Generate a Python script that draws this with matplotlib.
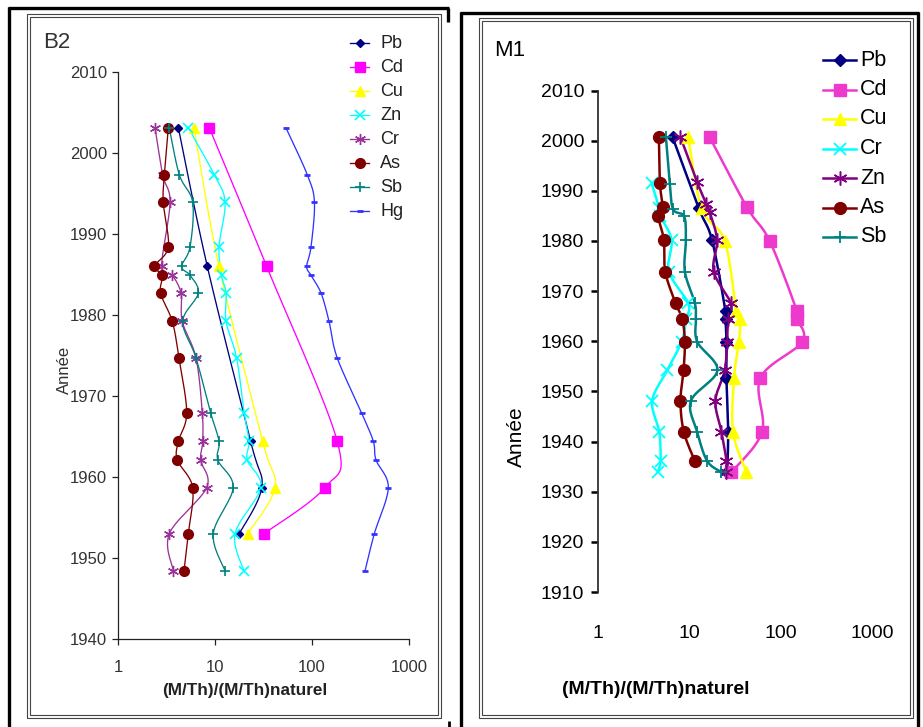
import numpy as np
import matplotlib
matplotlib.use("Agg")
import matplotlib.pyplot as plt
from matplotlib.lines import Line2D
from matplotlib.patches import Rectangle

plt.rcParams['font.family'] = ['Liberation Sans', 'DejaVu Sans']

# ---------------- Core B2 ----------------
b2_years_all = [2003.1, 1997.3, 1993.9, 1988.4, 1986.0, 1984.9, 1982.7, 1979.2,
                1974.7, 1967.9, 1964.4, 1962.1, 1958.7, 1953.0, 1948.4]

b2_pb_years = [2003.1, 1986.0, 1964.4, 1958.7, 1953.0]
b2_pb = [4.19, 8.33, 23.3, 30.3, 17.8]

b2_cd_years = [2003.1, 1986.0, 1964.4, 1958.7, 1953.0]
b2_cd = [8.74, 34.1, 182, 136, 32.0]

b2_cu_years = [2003.1, 1986.0, 1964.4, 1958.7, 1953.0]
b2_cu = [6.07, 11.0, 31.0, 41.5, 21.7]

b2_zn_years = [2003.1, 1997.3, 1993.9, 1988.4, 1984.9, 1982.7, 1979.2, 1974.7,
               1967.9, 1964.4, 1962.1, 1958.7, 1953.0, 1948.4]
b2_zn = [5.31, 9.84, 12.7, 11.0, 11.7, 13.0, 13.0, 16.7, 20.0, 22.4, 21.5, 29.6, 16.1, 19.9]

b2_cr_years = [2003.1, 1997.3, 1993.9, 1986.0, 1984.9, 1982.7, 1979.2, 1974.7,
               1967.9, 1964.4, 1962.1, 1958.7, 1953.0, 1948.4]
b2_cr = [2.41, 2.89, 3.44, 2.82, 3.63, 4.46, 4.60, 6.37, 7.40, 7.46, 7.12, 8.21, 3.38, 3.72]

b2_as_years = b2_years_all
b2_as = [3.30, 3.00, 2.93, 3.30, 2.37, 2.86, 2.75, 3.63, 4.25, 5.11, 4.19, 4.09, 5.89, 5.31, 4.79]

b2_sb_years = b2_years_all
b2_sb = [3.38, 4.29, 5.89, 5.53, 4.54, 5.53, 6.73, 4.65, 6.37, 9.03, 11.0, 10.7, 15.4, 9.60, 12.7]

b2_hg_years = b2_years_all
b2_hg = [53.9, 89.5, 106, 97.7, 88.2, 97.7, 124, 150, 182, 325, 429, 457, 612, 439, 352]

# ---------------- Core M1 ----------------
m1_pb_years = [2000.7, 1986.5, 1980.2, 1966.0, 1964.5, 1959.9, 1952.7, 1941.9, 1933.9]
m1_pb = [6.55, 12.7, 17.7, 24.9, 24.9, 25.5, 25.5, 26.6, 26.0]

m1_cd_years = [2000.7, 1986.7, 1980.0, 1966.0, 1964.5, 1959.9, 1952.7, 1941.9, 1933.9]
m1_cd = [16.7, 42.8, 75.8, 150.8, 150.8, 172.6, 60.0, 62.5, 28.9]

m1_cu_years = [2000.7, 1986.5, 1980.0, 1966.0, 1964.5, 1959.9, 1952.7, 1941.9, 1933.9]
m1_cu = [9.7, 13.6, 24.4, 32.8, 36.3, 34.8, 30.9, 30.1, 42.2]

m1_cr_years = [1991.5, 1986.5, 1985.0, 1980.2, 1973.9, 1967.6, 1964.5, 1959.9,
               1954.2, 1948.1, 1941.9, 1936.1, 1933.9]
m1_cr = [3.86, 4.7, 4.8, 6.39, 5.97, 9.7, 9.3, 8.21, 5.72, 3.92, 4.68, 4.84, 4.49]

m1_zn_years = [2000.7, 1991.7, 1987.3, 1985.7, 1980.2, 1973.9, 1967.6, 1964.5,
               1959.9, 1954.2, 1948.1, 1941.9, 1936.1, 1933.9]
m1_zn = [8.0, 12.2, 15.4, 16.7, 20.1, 18.5, 28.4, 26.6, 25.9, 24.4, 19.3, 22.5, 25.5, 24.9]

m1_as_years = [2000.7, 1991.5, 1986.7, 1985.0, 1980.2, 1973.9, 1967.6, 1964.5,
               1959.9, 1954.2, 1948.1, 1941.9, 1936.1]
m1_as = [4.64, 4.76, 5.1, 4.56, 5.26, 5.44, 7.06, 8.35, 8.93, 8.64, 8.0, 8.71, 11.5]

m1_sb_years = [2000.7, 1991.3, 1986.3, 1984.9, 1980.2, 1973.9, 1967.6, 1964.5,
               1959.9, 1954.2, 1948.1, 1941.9, 1936.1, 1933.9]
m1_sb = [5.54, 6.12, 6.65, 8.78, 9.16, 8.93, 11.5, 11.8, 12.2, 20.3, 10.4, 12.2, 15.7, 22.5]

x_ticks = [1, 10, 100, 1000]
x_ticklabels = ["1", "10", "100", "1000"]
b2_yticks = list(range(1940, 2011, 10))
m1_yticks = list(range(1910, 2011, 10))
x_label = "(M/Th)/(M/Th)naturel"
y_label = "Année"

# ---------------- figure helpers ----------------
W, H = 923, 727
fig = plt.figure(figsize=(W / 100, H / 100), dpi=100)


def fx(px):
    return px / W


def fy(py):
    return 1 - py / H


def smooth(vals, years, n=16):
    """Catmull-Rom curve through the points (log10 of value, year)."""
    u = np.log10(np.asarray(vals, float))
    y = np.asarray(years, float)
    if len(u) < 3:
        return 10 ** u, y
    P = np.column_stack([u, y])
    P = np.vstack([P[0], P, P[-1]])
    out = []
    t = np.linspace(0, 1, n, endpoint=False)
    for i in range(1, len(P) - 2):
        p0, p1, p2, p3 = P[i - 1], P[i], P[i + 1], P[i + 2]
        tt = t[:, None]
        seg = 0.5 * ((2 * p1) + (-p0 + p2) * tt + (2 * p0 - 5 * p1 + 4 * p2 - p3) * tt ** 2
                     + (-p0 + 3 * p1 - 3 * p2 + p3) * tt ** 3)
        out.append(seg)
    out.append(P[-2][None, :])
    S = np.vstack(out)
    return 10 ** S[:, 0], S[:, 1]


def series(ax, vals, years, color, marker, ms, lw, mew=1.0, mfc=None, zorder=3):
    xs, ys = smooth(vals, years)
    ax.plot(xs, ys, color=color, lw=lw, zorder=zorder, solid_capstyle='round')
    ax.plot(vals, years, ls='none', marker=marker, ms=ms, mew=mew,
            mec=color, mfc=color if mfc is None else mfc, zorder=zorder + 0.5)


def legend_row(x0, x1, xt, y, color, marker, ms, lw, label, size, mew=1.0, tcolor='black'):
    fig.add_artist(Line2D([fx(x0), fx(x1)], [fy(y), fy(y)], color=color, lw=lw,
                          transform=fig.transFigure))
    fig.add_artist(Line2D([fx((x0 + x1) / 2)], [fy(y)], ls='none', marker=marker, ms=ms,
                          mew=mew, mec=color, mfc=color, transform=fig.transFigure))
    fig.text(fx(xt), fy(y), label, fontsize=size, va='center', ha='left', color=tcolor)


STAR = (6, 2, 0)

# ---------------- frames ----------------
frame_kw = dict(transform=fig.transFigure, color='black', solid_capstyle='butt')
fig.add_artist(Line2D([fx(9), fx(9)], [fy(7), fy(727)], lw=2.4, **frame_kw))
fig.add_artist(Line2D([fx(8), fx(449)], [fy(8), fy(8)], lw=2.4, **frame_kw))
fig.add_artist(Line2D([fx(448), fx(448)], [fy(8), fy(22)], lw=2.4, **frame_kw))
fig.add_artist(Line2D([fx(449), fx(449)], [fy(721), fy(727)], lw=2.0, **frame_kw))
fig.add_artist(Line2D([fx(461), fx(461)], [fy(12), fy(727)], lw=2.4, **frame_kw))
fig.add_artist(Line2D([fx(460), fx(919)], [fy(13), fy(13)], lw=2.4, **frame_kw))
fig.add_artist(Line2D([fx(918), fx(918)], [fy(12), fy(727)], lw=2.4, **frame_kw))

for (x0, y0, x1, y1) in [(27, 14, 441, 718), (30, 17, 438, 715),
                         (479, 18, 913, 718), (482, 21, 910, 715)]:
    fig.add_artist(Rectangle((fx(x0), fy(y1)), fx(x1) - fx(x0), fy(y0) - fy(y1),
                             fill=False, lw=0.8, ec='#444444', transform=fig.transFigure))

# ---------------- B2 axes ----------------
axL = fig.add_axes([fx(118), fy(639), fx(409) - fx(118), fy(72) - fy(639)])
axL.set_xscale('log')
axL.set_xlim(1, 1000)
axL.set_ylim(1940, 2010)
for s in ['top', 'right']:
    axL.spines[s].set_visible(False)
for s in ['left', 'bottom']:
    axL.spines[s].set_linewidth(0.9)
    axL.spines[s].set_color('#222222')
axL.set_xticks(x_ticks)
axL.set_xticklabels(x_ticklabels)
axL.xaxis.set_minor_locator(matplotlib.ticker.NullLocator())
axL.set_yticks(b2_yticks)
axL.tick_params(axis='both', direction='out', length=4, width=0.9, colors='#222222',
                labelsize=12, labelcolor='#333333')
axL.tick_params(axis='y', pad=4)
axL.tick_params(axis='x', pad=11)
axL.patch.set_alpha(0)

lwL = 0.95
series(axL, b2_pb, b2_pb_years, '#000080', 'D', 4.5, lwL)
series(axL, b2_cd, b2_cd_years, '#FF00FF', 's', 7, lwL)
series(axL, b2_cu, b2_cu_years, '#FFFF00', '^', 7, lwL)
series(axL, b2_zn, b2_zn_years, '#00FFFF', 'x', 6.5, lwL, mew=1.2)
series(axL, b2_cr, b2_cr_years, '#993399', STAR, 8, lwL, mew=1.0)
series(axL, b2_as, b2_as_years, '#800000', 'o', 7, lwL)
series(axL, b2_sb, b2_sb_years, '#008080', '+', 7, lwL, mew=1.2)
series(axL, b2_hg, b2_hg_years, '#3333FF', '_', 4, lwL, mew=2.0)

fig.text(fx(43), fy(42), "B2", fontsize=16, color='#333333', va='center', ha='left')
fig.text(fx(64), fy(370), y_label, fontsize=12, color='#333333', rotation=90,
         va='center', ha='center')
fig.text(fx(245), fy(690), x_label, fontsize=12.3, fontweight='bold', color='#222222',
         va='center', ha='center')

b2_legend = [("Pb", '#000080', 'D', 4.5, 1.0), ("Cd", '#FF00FF', 's', 7, 1.0),
             ("Cu", '#FFFF00', '^', 7, 1.0), ("Zn", '#00FFFF', 'x', 6.5, 1.2),
             ("Cr", '#993399', STAR, 8, 1.0), ("As", '#800000', 'o', 7, 1.0),
             ("Sb", '#008080', '+', 7, 1.2), ("Hg", '#3333FF', '_', 4, 2.0)]
for i, (lab, c, m, ms, mew) in enumerate(b2_legend):
    legend_row(350, 369, 380, 43 + 24 * i, c, m, ms, lwL, lab, 13, mew=mew, tcolor='#222222')

# ---------------- M1 axes ----------------
axR = fig.add_axes([fx(598), fy(592), fx(872) - fx(598), fy(90.5) - fy(592)])
axR.set_xscale('log')
axR.set_xlim(1, 1000)
axR.set_ylim(1910, 2010)
for s in ['top', 'right', 'bottom']:
    axR.spines[s].set_visible(False)
axR.spines['left'].set_linewidth(1.3)
axR.spines['left'].set_color('#333333')
axR.set_xticks(x_ticks)
axR.set_xticklabels(x_ticklabels)
axR.xaxis.set_minor_locator(matplotlib.ticker.NullLocator())
axR.set_yticks(m1_yticks)
axR.tick_params(axis='y', direction='out', length=5, width=1.8, colors='black',
                labelsize=14, pad=5)
axR.tick_params(axis='x', length=0, labelsize=14, pad=24)
axR.patch.set_alpha(0)

lwR = 1.8
series(axR, m1_pb, m1_pb_years, '#000080', 'D', 6.5, lwR)
series(axR, m1_cd, m1_cd_years, '#EE3ACC', 's', 9, lwR)
series(axR, m1_cu, m1_cu_years, '#FFFF00', '^', 9, lwR)
series(axR, m1_cr, m1_cr_years, '#00FFFF', 'x', 8, lwR, mew=1.3)
series(axR, m1_zn, m1_zn_years, '#800080', STAR, 10, lwR, mew=1.1)
series(axR, m1_as, m1_as_years, '#800000', 'o', 8.5, lwR)
series(axR, m1_sb, m1_sb_years, '#008080', '+', 8.5, lwR, mew=1.3)

fig.text(fx(494), fy(50), "M1", fontsize=16, color='black', va='center', ha='left')
fig.text(fx(516), fy(437), y_label, fontsize=15, color='black', rotation=90,
         va='center', ha='center')
fig.text(fx(656), fy(690), x_label, fontsize=14, fontweight='bold', color='black',
         va='center', ha='center')

m1_legend = [("Pb", '#000080', 'D', 6.5, 1.0), ("Cd", '#EE3ACC', 's', 9, 1.0),
             ("Cu", '#FFFF00', '^', 9, 1.0), ("Cr", '#00FFFF', 'x', 8, 1.3),
             ("Zn", '#800080', STAR, 10, 1.1), ("As", '#800000', 'o', 8.5, 1.0),
             ("Sb", '#008080', '+', 8.5, 1.3)]
for i, (lab, c, m, ms, mew) in enumerate(m1_legend):
    legend_row(823, 856, 860, 60 + 29.5 * i, c, m, ms, lwR, lab, 15.5, mew=mew)

fig.savefig("out.png", dpi=100, facecolor='white')
